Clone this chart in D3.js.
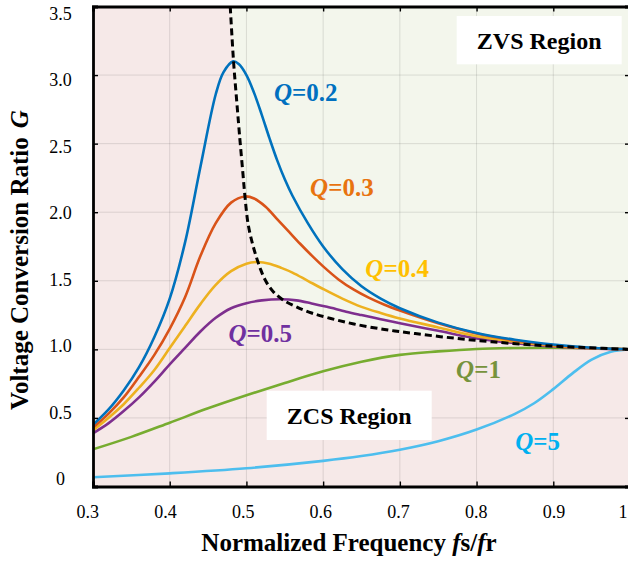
<!DOCTYPE html>
<html><head><meta charset="utf-8">
<script src="https://cdn.jsdelivr.net/npm/d3@7"></script>
<style>body{margin:0;background:#fff}svg{display:block}text{font-family:"Liberation Serif","Times New Roman",serif}</style>
</head><body><svg id="c" width="628" height="566"></svg>
<script>
// ---------- data ----------
const xTicks = [0.3,0.4,0.5,0.6,0.7,0.8,0.9,1.0];
const xTickLabels = ["0.3","0.4","0.5","0.6","0.7","0.8","0.9","1"];
const yTicks = [0,0.5,1.0,1.5,2.0,2.5,3.0,3.5];
const yTickLabels = ["0","0.5","1.0","1.5","2.0","2.5","3.0","3.5"];

const fQ02 = [0.30,0.32,0.34,0.36,0.38,0.40,0.42,0.44,0.46,0.47,0.4828,0.49,0.50,0.51,0.52,0.53,0.54,0.55,0.56,0.58,0.60,0.625,0.65,0.675,0.70,0.75,0.80,0.85,0.90,0.95,1.0];
const gQ02 = [0.45,0.56,0.70,0.87,1.09,1.37,1.78,2.33,2.86,3.02,3.10,3.08,3.0,2.87,2.71,2.54,2.38,2.24,2.12,1.92,1.75,1.585,1.46,1.37,1.30,1.195,1.12,1.07,1.035,1.012,1.0];

const fQ03 = [0.30,0.32,0.34,0.36,0.38,0.40,0.42,0.44,0.46,0.48,0.4984,0.51,0.525,0.54,0.555,0.57,0.585,0.60,0.62,0.64,0.66,0.68,0.70,0.75,0.80,0.85,0.90,0.95,1.0];
const gQ03 = [0.43,0.53,0.65,0.80,0.96,1.15,1.38,1.68,1.92,2.07,2.115,2.10,2.04,1.95,1.86,1.77,1.685,1.605,1.51,1.435,1.375,1.325,1.283,1.19,1.115,1.065,1.03,1.01,1.0];

const fQ04 = [0.30,0.32,0.34,0.36,0.38,0.40,0.42,0.44,0.46,0.48,0.50,0.515,0.53,0.545,0.56,0.58,0.60,0.625,0.65,0.675,0.70,0.75,0.80,0.85,0.90,0.95,1.0];
const gQ04 = [0.41,0.50,0.60,0.72,0.85,1.01,1.17,1.33,1.47,1.57,1.625,1.637,1.625,1.595,1.56,1.50,1.44,1.37,1.31,1.265,1.225,1.16,1.095,1.055,1.025,1.008,1.0];

const fQ05 = [0.30,0.32,0.34,0.36,0.38,0.40,0.42,0.44,0.46,0.48,0.50,0.52,0.545,0.565,0.585,0.605,0.63,0.65,0.675,0.70,0.75,0.80,0.85,0.90,0.95,1.0];
const gQ05 = [0.388,0.46,0.55,0.65,0.765,0.89,1.01,1.13,1.23,1.30,1.337,1.357,1.365,1.357,1.335,1.31,1.275,1.25,1.22,1.19,1.135,1.08,1.045,1.022,1.007,1.0];

const fQ1 = [0.30,0.35,0.40,0.45,0.50,0.55,0.60,0.65,0.70,0.75,0.80,0.85,0.90,0.95,1.0];
const gQ1 = [0.271,0.362,0.465,0.57,0.665,0.755,0.84,0.91,0.96,0.985,1.003,1.01,1.012,1.008,1.0];

const fQ5 = [0.30,0.40,0.50,0.60,0.65,0.70,0.75,0.80,0.85,0.875,0.90,0.925,0.95,0.975,1.0];
const gQ5 = [0.067,0.096,0.133,0.187,0.222,0.268,0.33,0.415,0.53,0.607,0.71,0.825,0.925,0.982,1.0];

const fBound = [0.4789,0.4832,0.4875,0.4915,0.495,0.498,0.502,0.507,0.512,0.518,0.525,0.535,0.548,0.565,0.585,0.61,0.64,0.68,0.72,0.77,0.82,0.88,0.94,1.0];
const gBound = [3.5,3.10,2.80,2.53,2.31,2.12,1.92,1.79,1.69,1.59,1.50,1.42,1.36,1.31,1.265,1.225,1.185,1.145,1.115,1.082,1.055,1.03,1.013,1.0];

const seriesColors = ["#4DBEEE","#77AC30","#7E2F8E","#EDB120","#D95319","#0072BD"];
const labelQ = ["0.2","0.3","0.4","0.5","1","5"];
const labelColors = ["#0070C0","#E8730F","#FFC000","#7030A0","#77933C","#00B0F0"];
const labelPos = [[0.536,2.81],[0.583,2.12],[0.655,1.53],[0.4766,1.056],[0.7733,0.789],[0.8505,0.266]];

// ---------- layout ----------
const L = 93, R = 630, T = 6.5, B = 486.5;
const x = d3.scaleLinear().domain([0.3,1.0]).range([L,R]);
const y = d3.scaleLinear().domain([0,3.5]).range([B,T]);
const xLab = d3.scaleLinear().domain([0.3,0.9]).range([87.7,554]);
const yLab = d3.scaleLinear().domain([0,3.5]).range([479,13.7]);

const svg = d3.select("#c");
svg.append("defs").append("clipPath").attr("id","pc").append("rect")
  .attr("x",L).attr("y",T).attr("width",R-L).attr("height",B-T);
const plot = svg.append("g").attr("clip-path","url(#pc)");

// backgrounds
plot.append("rect").attr("x",L).attr("y",T).attr("width",R-L).attr("height",B-T).attr("fill","#f6e9e8");
const smooth = d3.curveCatmullRom.alpha(0.5);
const zvs = fBound.map((f,i)=>[f,gBound[i]]);
const bLine = d3.line().x(d=>x(d[0])).y(d=>y(d[1])).curve(smooth);
plot.append("path")
  .attr("d", bLine(zvs) + `L${x(1.0)},${y(3.5)}Z`)
  .attr("fill","#f3f6ec");

// grid
plot.selectAll(".gx").data(xTicks.slice(1,-1)).join("line")
  .attr("x1",d=>x(d)).attr("x2",d=>x(d)).attr("y1",T).attr("y2",B)
  .attr("stroke","#000").attr("stroke-opacity",0.11).attr("stroke-width",1);
plot.selectAll(".gy").data(yTicks.slice(1,-1)).join("line")
  .attr("y1",d=>y(d)).attr("y2",d=>y(d)).attr("x1",L).attr("x2",R)
  .attr("stroke","#000").attr("stroke-opacity",0.11).attr("stroke-width",1);

// curves
const fs = [fQ5,fQ1,fQ05,fQ04,fQ03,fQ02];
const gs = [gQ5,gQ1,gQ05,gQ04,gQ03,gQ02];
const line = d3.line().x(d=>x(d[0])).y(d=>y(d[1])).curve(smooth);
fs.forEach((f,k)=>{
  plot.append("path").datum(f.map((v,i)=>[v,gs[k][i]]))
    .attr("d",line).attr("fill","none")
    .attr("stroke",seriesColors[k]).attr("stroke-width",2.6);
});
// boundary dashed
plot.append("path").datum(zvs)
  .attr("d",bLine).attr("fill","none").attr("stroke","#000")
  .attr("stroke-width",3).attr("stroke-dasharray","7,4");

// region boxes
const regions = [{t:"ZVS Region",x0:456.7,y0:16,w:165,h:48.3},{t:"ZCS Region",x0:266.7,y0:390.7,w:165,h:49.3}];
regions.forEach(r=>{
  svg.append("rect").attr("x",r.x0).attr("y",r.y0).attr("width",r.w).attr("height",r.h).attr("fill","#fff");
  svg.append("text").attr("x",r.x0+r.w/2).attr("y",r.y0+r.h/2+8.5).attr("text-anchor","middle")
    .attr("font-size",24).attr("font-weight","bold").attr("fill","#000").text(r.t);
});

// Q labels
labelQ.forEach((q,i)=>{
  const t = svg.append("text").attr("x",x(labelPos[i][0])).attr("y",y(labelPos[i][1]))
    .attr("font-size",25).attr("font-weight","bold").attr("fill",labelColors[i]);
  t.append("tspan").attr("font-style","italic").text("Q");
  t.append("tspan").text("="+q);
});

// axes (inward ticks on all sides)
const ax = svg.append("g");
ax.append("g").attr("transform",`translate(0,${B})`)
  .call(d3.axisBottom(x).tickValues(xTicks).tickSize(-5).tickFormat(""));
ax.append("g").attr("transform",`translate(0,${T})`)
  .call(d3.axisTop(x).tickValues(xTicks).tickSize(-5).tickFormat(""));
ax.append("g").attr("transform",`translate(${L},0)`)
  .call(d3.axisLeft(y).tickValues(yTicks).tickSize(-5).tickFormat(""));
ax.append("g").attr("transform",`translate(${R},0)`)
  .call(d3.axisRight(y).tickValues(yTicks).tickSize(-5).tickFormat(""));
ax.selectAll(".domain").attr("stroke","#000").attr("stroke-width",2.8);
ax.selectAll(".tick line").attr("stroke","#000").attr("stroke-width",1.4);

// tick labels
svg.selectAll(".xl").data(xTicks).join("text")
  .attr("x",d=>Math.min(xLab(d),623)).attr("y",517.5).attr("text-anchor","middle")
  .attr("font-size",18).attr("fill","#000").text((d,i)=>xTickLabels[i]);
svg.selectAll(".yl").data(yTicks).join("text")
  .attr("x",60.5).attr("y",d=>yLab(d)+6).attr("text-anchor","middle")
  .attr("font-size",18).attr("fill","#000").text((d,i)=>yTickLabels[i]);

// axis titles
const xt = svg.append("text").attr("x",349).attr("y",551).attr("text-anchor","middle")
  .attr("font-size",25).attr("font-weight","bold").attr("fill","#000");
xt.append("tspan").text("Normalized Frequency ");
xt.append("tspan").attr("font-style","italic").text("f");
xt.append("tspan").text("s/");
xt.append("tspan").attr("font-style","italic").text("f");
xt.append("tspan").text("r");
const yt = svg.append("text").attr("transform","translate(28,260) rotate(-90)").attr("text-anchor","middle")
  .attr("font-size",25).attr("font-weight","bold").attr("fill","#000");
yt.append("tspan").text("Voltage Conversion Ratio");
yt.append("tspan").attr("font-style","italic").attr("dx",9).text("G");
</script></body></html>
